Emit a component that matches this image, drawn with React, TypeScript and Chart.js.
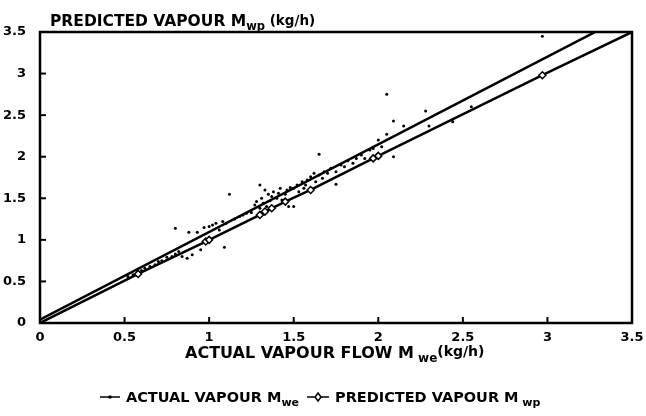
import { useEffect, useRef } from "react";
import { Chart, registerables } from "chart.js";
Chart.register(...registerables);

const tickValues = [0, 0.5, 1, 1.5, 2, 2.5, 3, 3.5];
const tickLabels = ["0", "0.5", "1", "1.5", "2", "2.5", "3", "3.5"];

// regression ("actual") line end points
const fitX = [0, 3.5];
const fitY = [0.04, 3.73];

// predicted line with diamond markers
const predX = [0, 0.58, 0.98, 1.0, 1.3, 1.33, 1.37, 1.45, 1.6, 1.97, 2.0, 2.97, 3.5];
const predY = [0, 0.59, 0.98, 1.0, 1.3, 1.34, 1.38, 1.46, 1.6, 1.98, 2.01, 2.98, 3.5];
const predMarker = [false, true, true, true, true, true, true, true, true, true, true, true, false];

// scattered measurements
const scatterX = [
  0.52, 0.55, 0.58, 0.6, 0.62, 0.65, 0.68, 0.7, 0.72, 0.75, 0.78, 0.8, 0.82,
  0.8, 0.88, 0.93, 0.97, 0.84, 0.87, 0.9, 0.95,
  1.0, 1.02, 1.04, 1.06, 1.08, 1.09, 1.1, 1.12, 1.15, 1.18, 1.2, 1.22, 1.25, 1.27,
  1.28, 1.3, 1.3, 1.31, 1.32, 1.33, 1.34, 1.35, 1.36, 1.37, 1.38, 1.4, 1.41, 1.42, 1.43,
  1.45, 1.46, 1.47, 1.48, 1.5, 1.5, 1.52, 1.53, 1.55, 1.56, 1.57, 1.58, 1.6, 1.6, 1.62,
  1.63, 1.65, 1.65, 1.67, 1.68, 1.7, 1.72, 1.75, 1.75, 1.78, 1.8, 1.82, 1.85, 1.87, 1.9,
  1.92, 1.95, 1.97, 2.0, 2.02, 2.05, 2.05, 2.09, 2.09, 2.15, 2.28, 2.3, 2.44, 2.55, 2.97,
];
const scatterY = [
  0.56, 0.58, 0.62, 0.63, 0.66, 0.68, 0.7, 0.74, 0.75, 0.79, 0.8, 0.83, 0.86,
  1.14, 1.09, 1.09, 1.15, 0.8, 0.78, 0.82, 0.88,
  1.16, 1.18, 1.2, 1.12, 1.22, 0.91, 1.2, 1.55, 1.25, 1.28, 1.3, 1.32, 1.33, 1.42,
  1.46, 1.66, 1.38, 1.5, 1.44, 1.6, 1.4, 1.55, 1.47, 1.52, 1.58, 1.5, 1.56, 1.62, 1.48,
  1.55, 1.6, 1.4, 1.63, 1.4, 1.62, 1.66, 1.58, 1.7, 1.62, 1.66, 1.72, 1.58, 1.76, 1.8,
  1.7, 2.03, 1.78, 1.74, 1.82, 1.8, 1.86, 1.67, 1.82, 1.9, 1.88, 1.95, 1.92, 1.98, 2.02,
  1.98, 2.08, 2.1, 2.2, 2.12, 2.27, 2.75, 2.43, 2.0, 2.37, 2.55, 2.37, 2.42, 2.6, 3.45,
];

type Run = { t: string; size: number; dy: number };
const yTitle: Run[] = [
  { t: "PREDICTED VAPOUR M", size: 15.5, dy: 0 },
  { t: "wp", size: 11.5, dy: 4 },
  { t: " (kg/h)", size: 13.5, dy: -1 },
];
const xTitle: Run[] = [
  { t: "ACTUAL VAPOUR FLOW M", size: 16, dy: 0 },
  { t: " we", size: 12, dy: 4 },
  { t: "(kg/h)", size: 14, dy: -2 },
];
const legendActual: Run[] = [
  { t: "ACTUAL VAPOUR M", size: 14.5, dy: 0 },
  { t: "we", size: 11, dy: 4 },
];
const legendPred: Run[] = [
  { t: "PREDICTED VAPOUR M", size: 14.5, dy: 0 },
  { t: " wp", size: 11, dy: 4 },
];

const FONT = "'DejaVu Sans', sans-serif";

function drawRuns(ctx: CanvasRenderingContext2D, x: number, y: number, runs: Run[]) {
  let cx = x;
  for (const r of runs) {
    ctx.font = `bold ${r.size}px ${FONT}`;
    ctx.fillText(r.t, cx, y + r.dy);
    cx += ctx.measureText(r.t).width;
  }
  return cx;
}

const decor = {
  id: "decor",
  afterDraw(chart: any) {
    const { ctx, chartArea: a, scales } = chart;
    const xs = scales.x;
    const ys = scales.y;
    ctx.save();
    ctx.strokeStyle = "#000";
    ctx.fillStyle = "#000";
    ctx.lineWidth = 2.5;
    ctx.strokeRect(a.left, a.top, a.right - a.left, a.bottom - a.top);
    ctx.lineWidth = 2;
    for (const v of tickValues.slice(1, -1)) {
      const px = xs.getPixelForValue(v);
      ctx.beginPath();
      ctx.moveTo(px, a.bottom);
      ctx.lineTo(px, a.bottom - 6);
      ctx.stroke();
      const py = ys.getPixelForValue(v);
      ctx.beginPath();
      ctx.moveTo(a.left, py);
      ctx.lineTo(a.left + 6, py);
      ctx.stroke();
    }
    ctx.textBaseline = "alphabetic";
    ctx.textAlign = "left";
    drawRuns(ctx, 50, 26, yTitle);
    drawRuns(ctx, 185, 358, xTitle);
    // legend
    const ly = 402;
    const my = ly - 5;
    ctx.lineWidth = 1.5;
    ctx.beginPath();
    ctx.moveTo(100, my);
    ctx.lineTo(120, my);
    ctx.stroke();
    ctx.beginPath();
    ctx.arc(110, my, 1.8, 0, Math.PI * 2);
    ctx.fill();
    const end = drawRuns(ctx, 126, ly, legendActual);
    const sx = end + 8;
    ctx.beginPath();
    ctx.moveTo(sx, my);
    ctx.lineTo(sx + 22, my);
    ctx.stroke();
    ctx.fillStyle = "#fff";
    ctx.beginPath();
    ctx.moveTo(sx + 11, my - 4);
    ctx.lineTo(sx + 14, my);
    ctx.lineTo(sx + 11, my + 4);
    ctx.lineTo(sx + 8, my);
    ctx.closePath();
    ctx.fill();
    ctx.stroke();
    ctx.fillStyle = "#000";
    drawRuns(ctx, sx + 28, ly, legendPred);
    ctx.restore();
  },
};

export default function App() {
  const ref = useRef<HTMLCanvasElement | null>(null);
  useEffect(() => {
    if (!ref.current) return;
    const chart = new Chart(ref.current, {
      type: "scatter",
      data: {
        datasets: [
          {
            label: "ACTUAL VAPOUR Mwe",
            type: "line",
            data: fitX.map((x, i) => ({ x, y: fitY[i] })),
            borderColor: "#000",
            borderWidth: 2.5,
            pointRadius: 0,
            showLine: true,
          },
          {
            label: "PREDICTED VAPOUR Mwp",
            type: "line",
            data: predX.map((x, i) => ({ x, y: predY[i] })),
            borderColor: "#000",
            backgroundColor: "#fff",
            borderWidth: 2.5,
            pointStyle: "rectRot",
            pointRadius: predMarker.map((m) => (m ? 3.5 : 0)),
            pointBorderWidth: 1.5,
            pointBorderColor: "#000",
            pointBackgroundColor: "#fff",
            showLine: true,
          },
          {
            label: "data",
            data: scatterX.map((x, i) => ({ x, y: scatterY[i] })),
            backgroundColor: "#000",
            borderColor: "#000",
            pointRadius: 1.5,
            borderWidth: 0,
          },
        ],
      },
      options: {
        animation: false,
        responsive: true,
        maintainAspectRatio: false,
        layout: { padding: { top: 32, right: 14, left: 0, bottom: 0 } },
        plugins: { legend: { display: false }, tooltip: { enabled: false }, title: { display: false } },
        scales: {
          x: {
            type: "linear",
            min: 0,
            max: 3.5,
            afterFit: (s: any) => { s.height = 93; },
            afterBuildTicks: (s: any) => { s.ticks = tickValues.map((v) => ({ value: v })); },
            grid: { display: false },
            border: { display: false },
            ticks: {
              color: "#000",
              padding: -1,
              font: { family: FONT, size: 13, weight: "bold" },
              callback: (v: any) => tickLabels[tickValues.indexOf(Number(v))] ?? "",
            },
          },
          y: {
            type: "linear",
            min: 0,
            max: 3.5,
            afterFit: (s: any) => { s.width = 40; },
            afterBuildTicks: (s: any) => { s.ticks = tickValues.map((v) => ({ value: v })); },
            grid: { display: false },
            border: { display: false },
            ticks: {
              color: "#000",
              padding: 6,
              font: { family: FONT, size: 13, weight: "bold" },
              callback: (v: any) => tickLabels[tickValues.indexOf(Number(v))] ?? "",
            },
          },
        },
      },
      plugins: [decor],
    });
    return () => chart.destroy();
  }, []);
  return (
    <div style={{ position: "fixed", left: 0, top: 0, width: 646, height: 416, background: "#fff" }}>
      <canvas ref={ref} />
    </div>
  );
}
